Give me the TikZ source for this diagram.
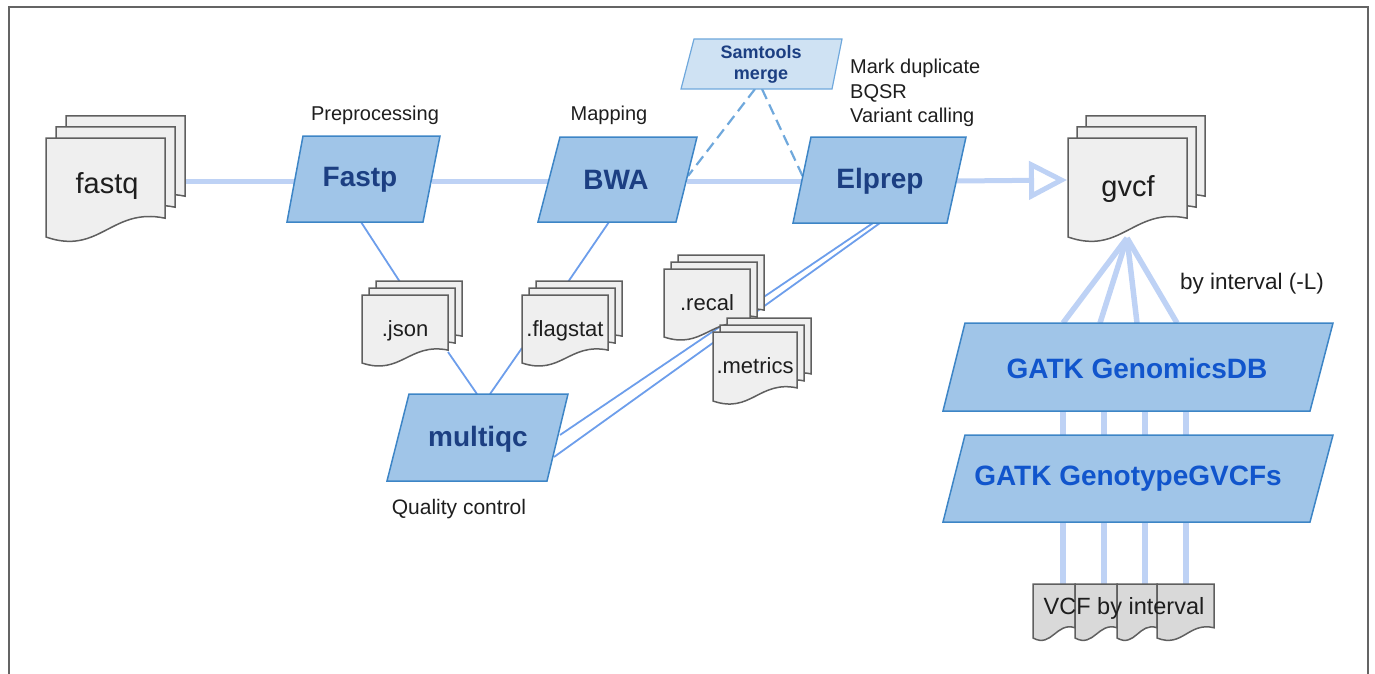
\documentclass[tikz,border=0pt]{standalone}
\usepackage{fontspec}
\setmainfont{Liberation Sans}
\usetikzlibrary{arrows.meta}
\definecolor{parafill}{RGB}{160,197,232}
\definecolor{paraedge}{RGB}{61,133,198}
\definecolor{smfill}{RGB}{207,226,243}
\definecolor{smedge}{RGB}{111,168,220}
\definecolor{navy}{RGB}{28,63,130}
\definecolor{gatkblue}{RGB}{17,85,204}
\definecolor{docfill}{RGB}{239,239,239}
\definecolor{docfilldark}{RGB}{217,217,217}
\definecolor{docedge}{RGB}{95,95,95}
\definecolor{thickln}{RGB}{190,210,245}
\definecolor{thinln}{RGB}{109,158,235}
\definecolor{frameln}{RGB}{100,100,100}
\definecolor{txt}{RGB}{30,30,30}

\newcommand\docone[5]{%
  \pgfmathsetmacro\DocL{#1}\pgfmathsetmacro\DocT{#2}%
  \pgfmathsetmacro\DocR{#3}\pgfmathsetmacro\DocB{#4}%
  \pgfmathsetmacro\DocD{0.19*(\DocB-\DocT)}%
  \pgfmathsetmacro\DocW{\DocR-\DocL}%
  \filldraw[docsty,fill=#5] (\DocL,\DocT) -- (\DocR,\DocT) -- (\DocR,\DocB-\DocD)
    .. controls (\DocL+0.55*\DocW,\DocB-1.6*\DocD) and (\DocL+0.45*\DocW,\DocB+\DocD) .. (\DocL,\DocB) -- cycle;}
\newcommand\docstack[7]{%
  \docone{(#1)+2*(#5)}{(#2)-2*(#6)}{(#3)+2*(#5)}{(#4)-2*(#6)}{#7}%
  \docone{(#1)+(#5)}{(#2)-(#6)}{(#3)+(#5)}{(#4)-(#6)}{#7}%
  \docone{#1}{#2}{#3}{#4}{#7}}

\tikzset{
  mainln/.style={draw=thickln, line width=5pt},
  fanln/.style={draw=thickln, line width=5.5pt},
  thinconn/.style={draw=thinln, line width=1.8pt},
  dashln/.style={draw=smedge, line width=2.2pt, dash pattern=on 11pt off 6pt},
  parasty/.style={fill=parafill, draw=paraedge, line width=1.5pt},
  smsty/.style={fill=smfill, draw=smedge, line width=1.2pt},
  docsty/.style={draw=docedge, line width=1.5pt},
  boldtxt/.style={font=\fontsize{28}{32}\selectfont\bfseries, text=navy, inner sep=0pt},
  smtxt/.style={font=\fontsize{18}{22}\selectfont\bfseries, text=navy, inner sep=0pt, align=center},
  gatktxt/.style={font=\fontsize{28}{32}\selectfont\bfseries, text=gatkblue, inner sep=0pt},
  bigdoctxt/.style={font=\fontsize{29}{33}\selectfont, text=txt, inner sep=0pt},
  doctxt/.style={font=\fontsize{22}{26}\selectfont, text=txt, inner sep=0pt},
  lbl/.style={font=\fontsize{20}{24}\selectfont, text=txt, inner sep=0pt},
}

\begin{document}
\begin{tikzpicture}[x=1pt,y=-1pt]
\useasboundingbox (0,0) rectangle (1375,674);
% frame
\draw[frameln, line width=2pt] (9,676) -- (9,7) -- (1368,7) -- (1368,676);

% named anchor coordinates
\coordinate (fastqR) at (184,181);
\coordinate (fastpL) at (297,181);
\coordinate (fastpR) at (432,181);
\coordinate (bwaL) at (549,181);
\coordinate (bwaR) at (687,181);
\coordinate (elprepL) at (802,181);
\coordinate (elprepR) at (957,181);
\coordinate (gvcfL) at (1067,180);
\coordinate (fastpB) at (361,222);
\coordinate (jsonT) at (400,282);
\coordinate (bwaB) at (609,222);
\coordinate (flagT) at (568,282);
\coordinate (jsonR) at (448,352);
\coordinate (flagL) at (522,348);
\coordinate (mqT1) at (477,394);
\coordinate (mqT2) at (490,394);
\coordinate (elprepB1) at (873,223);
\coordinate (elprepB2) at (880,223);
\coordinate (mqR1) at (560,435);
\coordinate (mqR2) at (554,457);
\coordinate (smB1) at (755,89);
\coordinate (smB2) at (762,89);
\coordinate (bwaRd) at (688,176);
\coordinate (elprepLd) at (803,177);
\coordinate (gvcfB) at (1127,238);
\foreach \i/\x in {1/1063,2/1100,3/1137,4/1177} {\coordinate (dbT\i) at (\x,323);}
\foreach \i/\x in {1/1063,2/1104,3/1145,4/1186} {
  \coordinate (dbB\i) at (\x,411); \coordinate (gtT\i) at (\x,435);
  \coordinate (gtB\i) at (\x,522); \coordinate (vcfT\i) at (\x,584);}

% connectors
\draw[mainln] (fastqR) -- (fastpL);
\draw[mainln] (fastpR) -- (bwaL);
\draw[mainln] (bwaR) -- (elprepL);
\draw[mainln, -{Triangle[open, length=38pt, width=38pt]}] (elprepR) -- (gvcfL);
\draw[thinconn] (fastpB) -- (jsonT);
\draw[thinconn] (bwaB) -- (flagT);
\draw[thinconn] (jsonR) -- (mqT1);
\draw[thinconn] (flagL) -- (mqT2);
\draw[thinconn] (elprepB1) -- (mqR1);
\draw[thinconn] (elprepB2) -- (mqR2);
\draw[dashln] (smB1) -- (bwaRd);
\draw[dashln] (smB2) -- (elprepLd);
\foreach \i in {1,...,4} {
  \draw[fanln] (gvcfB) -- (dbT\i);
  \draw[fanln] (dbB\i) -- (gtT\i);
  \draw[fanln] (gtB\i) -- (vcfT\i);
}

% documents
\docstack{46}{138}{165}{237}{10}{11}{docfill}
\docstack{362}{295}{448}{363}{7}{7}{docfill}
\docstack{522}{295}{608}{363}{7}{7}{docfill}
\docstack{664}{269}{750}{337}{7}{7}{docfill}
\docstack{713}{332}{797}{401}{7}{7}{docfill}
\docstack{1068}{138}{1187}{237}{9}{11}{docfill}
\docone{1033}{584}{1075}{638}{docfilldark}
\docone{1075}{584}{1117}{638}{docfilldark}
\docone{1117}{584}{1157}{638}{docfilldark}
\docone{1157}{584}{1214}{638}{docfilldark}

% process shapes
\filldraw[parasty] (303,136) -- (440,136) -- (423,222) -- (287,222) -- cycle;
\filldraw[parasty] (560,137) -- (697,137) -- (676,222) -- (538,222) -- cycle;
\filldraw[parasty] (811,137) -- (966,137) -- (947,223) -- (793,223) -- cycle;
\filldraw[parasty] (409,394) -- (568,394) -- (547,481) -- (387,481) -- cycle;
\filldraw[parasty] (965,323) -- (1333,323) -- (1310,411) -- (943,411) -- cycle;
\filldraw[parasty] (965,435) -- (1333,435) -- (1310,522) -- (943,522) -- cycle;
\filldraw[smsty] (694,39) -- (842,39) -- (832,89) -- (681,89) -- cycle;

% texts
\node[bigdoctxt] (fastq) at (107,186) {fastq};
\node[bigdoctxt] (gvcf) at (1128,189) {gvcf};
\node[doctxt] (json) at (405,331) {.json};
\node[doctxt] (flagstat) at (565,331) {.flagstat};
\node[doctxt] (recal) at (707,303) {.recal};
\node[doctxt] (metrics) at (755,366) {.metrics};
\node[font=\fontsize{23.5}{28}\selectfont, text=txt, inner sep=0pt] (vcf) at (1124,608) {VCF by interval};

\node[boldtxt] (fastp) at (360,180) {Fastp};
\node[boldtxt] (bwa) at (616,180) {BWA};
\node[boldtxt] (elprep) at (880,181) {Elprep};
\node[boldtxt] (multiqc) at (478,439) {multiqc};
\node[gatktxt] (gdb) at (1137,368) {GATK GenomicsDB};
\node[gatktxt] (ggv) at (1128,479) {GATK GenotypeGVCFs};
\node[smtxt] (samtools) at (761,64) {Samtools\\[-1pt]merge};

\node[lbl] (prep) at (375,115) {Preprocessing};
\node[lbl] (mapping) at (609,115) {Mapping};
\node[lbl, font=\fontsize{21}{25}\selectfont] (qc) at (459,509) {Quality control};
\node[lbl, font=\fontsize{22.5}{26}\selectfont] (byint) at (1252,284) {by interval (-L)};
\node[lbl, anchor=west, align=left, font=\fontsize{20}{24.5}\selectfont] (steps) at (850,93) {Mark duplicate\\BQSR\\Variant calling};
\end{tikzpicture}
\end{document}
